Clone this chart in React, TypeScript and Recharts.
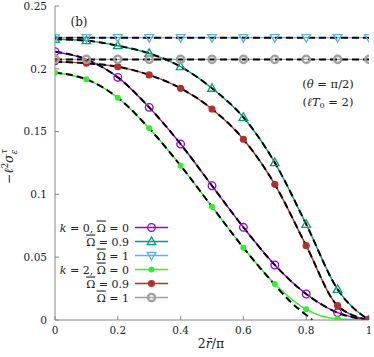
import React from "react";
import { LineChart, Line, XAxis, YAxis, Customized } from "recharts";

// abscissa 2r/pi, one sample per 0.1
const xs = [0, 0.1, 0.2, 0.3, 0.4, 0.5, 0.6, 0.7, 0.8, 0.9, 1];

// k = 0
const k0w0 = [0.2136, 0.2075, 0.1932, 0.1693, 0.1401, 0.1069, 0.0738, 0.0438, 0.0207, 0.0058, 0];
const k0w09 = [0.2235, 0.2224, 0.2184, 0.2123, 0.2017, 0.1845, 0.1614, 0.1253, 0.0762, 0.0244, 0];
const k0w1 = [0.2248, 0.2248, 0.2248, 0.2248, 0.2248, 0.2248, 0.2248, 0.2248, 0.2248, 0.2248, 0.2248];
// k = 2
const k2w0 = [0.1969, 0.1916, 0.177, 0.1526, 0.1229, 0.0902, 0.0576, 0.0287, 0.0085, 0.0008, 0];
const k2w09 = [0.2057, 0.2044, 0.2017, 0.1951, 0.1845, 0.168, 0.1439, 0.108, 0.0592, 0.0114, 0];
const k2w1 = [0.2075, 0.2075, 0.2075, 0.2075, 0.2075, 0.2075, 0.2075, 0.2075, 0.2075, 0.2075, 0.2075];

// the approximation for k=2, Omega=0 leaves the curve near the edge
const approxGreenX = [0, 0.1, 0.2, 0.3, 0.4, 0.5, 0.6, 0.7, 0.75, 0.8, 0.82];
const approxGreenY = [0.1969, 0.1916, 0.177, 0.1526, 0.1229, 0.0902, 0.0576, 0.028, 0.0145, 0.004, 0];

const xTicks = [0, 0.2, 0.4, 0.6, 0.8, 1];
const yTicks = [0, 0.05, 0.1, 0.15, 0.2, 0.25];

const FONT = "DejaVu Serif";
const AXIS = "#888888";
const BAR = "\u0304"; // combining macron

type Marker = "circle" | "triUp" | "triDown" | "dot" | "dotBig" | "ring";

const series: { key: string; k?: string; omega: string; color: string; marker: Marker }[] = [
  { key: "k0w0", k: "0", omega: "0", color: "#9400d3", marker: "circle" },
  { key: "k0w09", omega: "0.9", color: "#009e73", marker: "triUp" },
  { key: "k0w1", omega: "1", color: "#56b4e9", marker: "triDown" },
  { key: "k2w0", k: "2", omega: "0", color: "#2ef02e", marker: "dot" },
  { key: "k2w09", omega: "0.9", color: "#b03030", marker: "dotBig" },
  { key: "k2w1", omega: "1", color: "#a0a0a0", marker: "ring" },
];

const values: Record<string, number[]> = { k0w0, k0w09, k0w1, k2w0, k2w09, k2w1 };

const table = xs.map((x, i) => {
  const row: Record<string, number> = { x };
  series.forEach((s) => (row[s.key] = values[s.key][i]));
  return row;
});
const greenApprox = approxGreenX.map((x, i) => ({ x, y: approxGreenY[i] }));

function drawMarker(kind: Marker, color: string, cx: number, cy: number, key?: string) {
  const sw = 1.3;
  switch (kind) {
    case "circle":
      return <circle key={key} cx={cx} cy={cy} r={3.8} fill="none" stroke={color} strokeWidth={sw} />;
    case "triUp":
      return (
        <polygon key={key} points={`${cx},${cy - 4.5} ${cx - 4.3},${cy + 3} ${cx + 4.3},${cy + 3}`}
          fill="none" stroke={color} strokeWidth={sw} />
      );
    case "triDown":
      return (
        <polygon key={key} points={`${cx},${cy + 4.5} ${cx - 4.3},${cy - 3} ${cx + 4.3},${cy - 3}`}
          fill="none" stroke={color} strokeWidth={sw} />
      );
    case "dot":
      return <circle key={key} cx={cx} cy={cy} r={3} fill={color} />;
    case "dotBig":
      return <circle key={key} cx={cx} cy={cy} r={3.6} fill={color} />;
    case "ring":
      return <circle key={key} cx={cx} cy={cy} r={3.6} fill="none" stroke={color} strokeWidth={2.4} />;
  }
}

function LegendLabel({ k, omega }: { k?: string; omega: string }) {
  return (
    <>
      {k !== undefined && (
        <>
          <tspan fontStyle="italic">k</tspan>
          <tspan>{` = ${k}, `}</tspan>
        </>
      )}
      <tspan style={{ textDecoration: "overline" }}>Ω</tspan>
      <tspan>{` = ${omega}`}</tspan>
    </>
  );
}

function Annotations() {
  return (
    <g fontFamily={FONT} fill="#222">
      {/* legend, bottom left inside the frame */}
      {series.map((s, i) => {
        const y = 227.5 + i * 14;
        return (
          <g key={s.key}>
            <text x={129} y={y + 4} fontSize={11} textAnchor="end">
              <LegendLabel k={s.k} omega={s.omega} />
            </text>
            <line x1={135} x2={168} y1={y} y2={y} stroke={s.color} strokeWidth={1.5} />
            {drawMarker(s.marker, s.color, 151.5, y)}
          </g>
        );
      })}
      <text x={79} y={26} fontSize={12} textAnchor="middle">(b)</text>
      <text x={328} y={88} fontSize={11.5} textAnchor="middle">
        (<tspan fontStyle="italic">θ</tspan> = π/2)
      </text>
      <text x={328} y={106} fontSize={11.5} textAnchor="middle">
        (<tspan fontStyle="italic">ℓT</tspan>
        <tspan fontSize={8} dy={2}>0</tspan>
        <tspan dy={-2}> = 2)</tspan>
      </text>
      {/* axis titles */}
      <text x={211} y={348} fontSize={12.5} textAnchor="middle">
        2<tspan fontStyle="italic">{`r${BAR}`}</tspan>/π
      </text>
      <g transform="translate(13,163) rotate(-90)">
        <text x={-21} y={0} fontSize={12.5}>
          −<tspan fontStyle="italic">ℓ</tspan>
          <tspan fontSize={8.5} dy={-5}>2</tspan>
          <tspan fontStyle="italic" dy={5}>σ</tspan>
          <tspan fontStyle="italic" fontSize={8.5} dy={3.5}>ε</tspan>
          <tspan fontStyle="italic" fontSize={8.5} dx={-4} dy={-10}>τ</tspan>
        </text>
      </g>
    </g>
  );
}

export default function App() {
  const tickStyle = { fontFamily: FONT, fontSize: 10.5, fill: "#222" };
  return (
    <div style={{ position: "absolute", left: 0, top: 0, background: "#fff" }}>
      <LineChart width={374} height={357} data={table} margin={{ top: 6, right: 5, bottom: 0, left: 0 }}>
        <XAxis dataKey="x" type="number" domain={[0, 1]} ticks={xTicks} height={37}
          stroke={AXIS} tickSize={-4} tickMargin={11} tick={tickStyle}
          tickFormatter={(v: number) => String(v)} allowDataOverflow />
        <XAxis xAxisId="top" orientation="top" dataKey="x" type="number" domain={[0, 1]} ticks={xTicks}
          height={0} stroke={AXIS} tickSize={-4} tickFormatter={() => ""} allowDataOverflow />
        <YAxis type="number" domain={[0, 0.25]} ticks={yTicks} width={55}
          stroke={AXIS} tickSize={-4} tickMargin={12} tick={tickStyle}
          tickFormatter={(v: number) => String(v)} allowDataOverflow />
        <YAxis yAxisId="right" orientation="right" type="number" domain={[0, 0.25]} ticks={yTicks}
          width={0} stroke={AXIS} tickSize={-4} tickFormatter={() => ""} allowDataOverflow />
        {series.map((s) => (
          <Line key={s.key} dataKey={s.key} type="monotone" stroke={s.color} strokeWidth={1.4}
            isAnimationActive={false}
            dot={(p: any) => drawMarker(s.marker, s.color, p.cx, p.cy, `${s.key}-${p.index}`)}
            activeDot={false} />
        ))}
        {series
          .filter((s) => s.key !== "k2w0")
          .map((s) => (
            <Line key={`a-${s.key}`} dataKey={s.key} type="monotone" stroke="#000" strokeWidth={2}
              strokeDasharray="7 4" dot={false} activeDot={false} isAnimationActive={false} />
          ))}
        <Line data={greenApprox} dataKey="y" type="monotone" stroke="#000" strokeWidth={2}
          strokeDasharray="7 4" dot={false} activeDot={false} isAnimationActive={false} />
        <Customized component={Annotations} />
      </LineChart>
    </div>
  );
}
